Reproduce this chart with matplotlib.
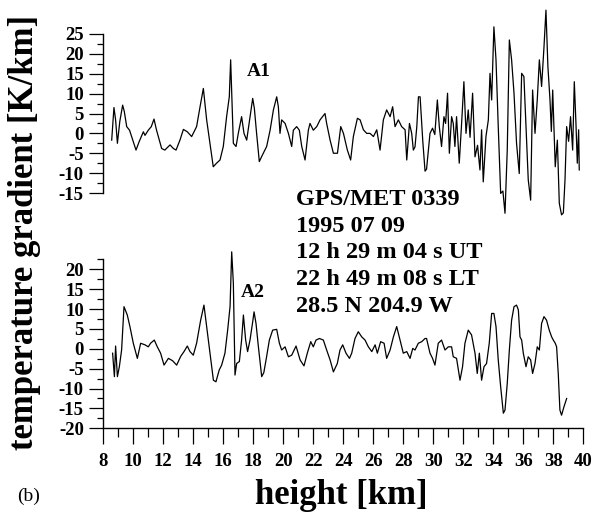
import matplotlib
matplotlib.use('Agg')
import matplotlib.pyplot as plt
from matplotlib.ticker import MultipleLocator

plt.rcParams['font.family'] = ['Liberation Serif', 'DejaVu Serif']
plt.rcParams['font.weight'] = 'bold'
plt.rcParams['axes.unicode_minus'] = False

# profile A1: height [km], temperature gradient [K/km]
h_a1 = [8.56, 8.71, 8.82, 8.94, 9.1, 9.29, 9.4, 9.56, 9.75, 10.18, 10.4, 10.67, 10.78, 11.0,
        11.2, 11.38, 11.55, 11.89, 12.1, 12.45, 12.67, 12.85, 13.11, 13.34, 13.6, 13.89, 14.22,
        14.45, 14.67, 14.89, 15.11, 15.33, 15.55, 15.78, 16.0, 16.22, 16.4, 16.49, 16.58, 16.67,
        16.85, 17.0, 17.22, 17.38, 17.56, 17.82, 17.96, 18.07, 18.22, 18.4, 18.6, 18.89, 19.12,
        19.34, 19.56, 19.67, 19.78, 19.89, 20.12, 20.34, 20.56, 20.67, 20.89, 21.07, 21.23, 21.45,
        21.67, 21.78, 22.0, 22.23, 22.45, 22.78, 22.89, 23.12, 23.34, 23.61, 23.83, 24.01, 24.27,
        24.49, 24.67, 24.94, 25.12, 25.34, 25.56, 25.78, 26.01, 26.23, 26.45, 26.67, 26.89, 27.12,
        27.29, 27.45, 27.67, 27.89, 28.12, 28.23, 28.41, 28.56, 28.67, 28.78, 28.9, 29.01, 29.12,
        29.3, 29.45, 29.55, 29.78, 29.95, 30.1, 30.27, 30.4, 30.55, 30.71, 30.82, 30.95, 31.07,
        31.22, 31.33, 31.44, 31.55, 31.73, 31.88, 32.04, 32.18, 32.33, 32.45, 32.62, 32.78, 32.95,
        33.11, 33.22, 33.33, 33.51, 33.67, 33.78, 33.89, 34.04, 34.18, 34.33, 34.49, 34.64, 34.78,
        34.93, 35.07, 35.22, 35.38, 35.55, 35.73, 35.89, 36.04, 36.18, 36.33, 36.49, 36.62, 36.78,
        36.93, 37.07, 37.22, 37.38, 37.51, 37.64, 37.78, 37.87, 37.96, 38.13, 38.27, 38.4, 38.55,
        38.67, 38.78, 38.89, 39.02, 39.15, 39.29, 39.4, 39.51, 39.6, 39.69, 39.73]
g_a1 = [-1.7, 6.5, 3.4, -2.5, 3.0, 7.1, 5.5, 1.7, 0.8, -4.2, -2.0, 0.4, -0.5, 0.8,
        1.7, 3.6, 0.8, -3.8, -4.2, -2.9, -3.8, -4.2, -1.7, 1.0, 0.4, -0.8, 1.7,
        6.7, 11.3, 3.4, -2.5, -8.4, -7.5, -6.7, -3.3, 4.2, 9.2, 18.5, 8.4, -2.5,
        -3.3, 0.0, 4.2, 0.0, -1.7, 5.0, 8.8, 6.3, 0.0, -7.1, -5.5, -3.3, 0.8,
        5.9, 9.2, 6.7, 0.0, 3.4, 2.5, 0.0, -3.3, 0.8, 1.7, 0.8, -3.3, -6.7,
        0.8, 2.5, 0.8, 1.7, 3.4, 5.0, 2.5, -1.7, -5.0, -5.0, 1.7, 0.0, -4.2,
        -6.7, -0.8, 3.8, 3.4, 0.9, 0.0, 0.0, -0.8, 0.9, -4.2, 3.4, 5.9, 4.2,
        6.7, 1.7, 3.4, 1.7, 0.9, -6.7, 2.5, 0.0, -4.2, -3.4, 1.7, 9.2, 9.2,
        -2.0, -9.5, -9.0, 0.0, 1.3, -0.3, 8.4, 1.7, -3.3, 4.2, 2.5, 10.1, -5.0,
        4.2, 2.5, -3.3, 4.2, -7.5, 2.0, 13.0, 0.0, 5.9, -1.0, 10.1, -5.9, -3.0,
        -9.2, 0.9, -12.2, -0.8, 3.4, 15.1, 8.4, 26.8, 18.5, 1.7, -15.1, -14.5, -20.1,
        -4.2, 23.5, 18.5, 10.1, -2.5, -10.1, 15.1, 14.3, 1.7, -11.7, -16.8, 10.9, 0.0,
        8.4, 18.5, 11.8, 21.8, 31.0, 16.8, 8.4, 0.5, 10.9, -8.4, -1.7, -17.6, -20.5,
        -20.0, -11.7, 1.7, -2.0, 4.2, -4.2, 13.0, 2.5, -7.5, 0.9, -9.2]

# profile A2
h_a2 = [8.62, 8.74, 8.82, 8.94, 9.07, 9.22, 9.38, 9.6, 9.78, 10.0, 10.27, 10.49, 10.78, 11.0,
        11.15, 11.4, 11.6, 11.82, 12.05, 12.34, 12.62, 12.89, 13.16, 13.38, 13.6, 13.78, 14.0,
        14.22, 14.49, 14.71, 14.89, 15.11, 15.34, 15.51, 15.73, 15.89, 16.11, 16.29, 16.45, 16.56,
        16.67, 16.78, 16.89, 17.07, 17.22, 17.34, 17.49, 17.62, 17.78, 17.96, 18.05, 18.18, 18.34,
        18.56, 18.7, 18.85, 19.07, 19.29, 19.56, 19.74, 19.89, 20.12, 20.34, 20.56, 20.85, 21.12,
        21.38, 21.6, 21.83, 22.0, 22.18, 22.41, 22.67, 22.89, 23.12, 23.34, 23.6, 23.78, 23.96,
        24.18, 24.41, 24.56, 24.78, 25.0, 25.23, 25.45, 25.67, 25.9, 26.12, 26.27, 26.49, 26.72,
        26.89, 27.12, 27.34, 27.56, 27.78, 28.0, 28.23, 28.45, 28.63, 28.78, 29.0, 29.23, 29.45,
        29.55, 29.78, 29.95, 30.11, 30.33, 30.55, 30.78, 31.0, 31.22, 31.33, 31.55, 31.78, 31.95,
        32.11, 32.33, 32.55, 32.78, 32.93, 33.07, 33.22, 33.38, 33.55, 33.73, 33.89, 34.04, 34.18,
        34.33, 34.49, 34.67, 34.78, 34.93, 35.07, 35.22, 35.38, 35.55, 35.67, 35.78, 35.89, 36.0,
        36.18, 36.33, 36.49, 36.62, 36.78, 36.93, 37.07, 37.22, 37.38, 37.55, 37.73, 37.89, 38.0,
        38.13, 38.22, 38.33, 38.44, 38.55, 38.71, 38.89]
g_a2 = [-1.1, -7.0, 0.7, -7.0, -4.5, -0.3, 10.6, 8.5, 5.5, 1.4, -2.4, 1.4, 1.0, 0.5,
        1.4, 2.2, 0.5, -1.1, -4.1, -2.4, -3.0, -4.1, -1.9, -0.7, 0.7, -0.7, -1.6,
        1.4, 7.2, 11.0, 5.6, -1.1, -7.9, -8.3, -5.3, -4.1, -1.1, 4.7, 10.6, 24.4,
        16.5, -6.6, -3.7, -3.2, 2.2, 8.5, 2.2, -0.7, 2.2, 6.8, 9.3, 6.4, 0.5,
        -7.0, -6.0, -2.8, 2.2, 4.7, 4.9, 1.4, -0.3, 0.5, -2.0, -1.6, 0.7, -2.8,
        -4.3, -1.1, 1.8, 0.5, 2.2, 2.6, 2.2, -0.3, -2.8, -5.8, -3.7, -0.3, 1.0,
        -1.1, -2.4, -1.1, 2.6, 4.3, 3.0, 2.2, 0.5, -0.7, 1.0, -1.1, 1.8, 1.4,
        -2.4, -0.3, 3.0, 5.6, 2.2, -1.1, -0.7, -2.4, 0.1, -0.3, 1.4, 1.8, 2.6,
        2.6, -1.1, -2.4, -4.1, 1.4, 2.2, -0.3, 0.5, 0.5, -2.0, -2.4, -7.9, -4.5,
        1.4, 4.7, 3.5, -1.1, -6.2, -1.1, -7.9, -4.5, -3.7, 1.4, 8.9, 8.9, 5.6,
        -2.8, -9.5, -16.2, -15.4, -8.7, -0.3, 7.2, 10.6, 11.0, 9.8, 3.0, 2.2, -1.1,
        -4.5, -2.0, -2.8, -6.2, -3.7, 0.5, -0.3, 6.4, 8.1, 7.2, 4.7, 3.0, 2.2,
        1.4, 0.5, -6.2, -15.4, -16.7, -14.6, -12.5]

info_lines = ['GPS/MET 0339', '1995 07 09', '12 h 29 m 04 s UT',
              '22 h 49 m 08 s LT', '28.5 N 204.9 W']

W, H = 596, 518
def fx(px):
    return px / W
def fy(py):
    return 1 - py / H

fig = plt.figure(figsize=(W / 100, H / 100), dpi=100)

ax1 = fig.add_axes([fx(103.3), fy(193), 480 / W, 159 / H])
ax2 = fig.add_axes([fx(103.3), fy(428.3), 480 / W, (428.3 - 259.4) / H])

ax1.plot(h_a1, g_a1, color='black', lw=0.9, clip_on=False)
ax2.plot(h_a2, g_a2, color='black', lw=0.9, clip_on=False)

for ax in (ax1, ax2):
    ax.set_xlim(8, 40)
    ax.patch.set_visible(False)
    ax.spines['top'].set_visible(False)
    ax.spines['right'].set_visible(False)
    ax.spines['left'].set_linewidth(1.0)
    ax.yaxis.set_major_locator(MultipleLocator(5))
    ax.yaxis.set_minor_locator(MultipleLocator(2.5))
    ax.tick_params(axis='y', which='major', direction='out', length=10, width=0.9,
                   pad=4, labelsize=13.5)
    ax.tick_params(axis='y', which='minor', direction='out', length=4.5, width=0.9)

ax1.set_ylim(-15, 25)
ax1.spines['bottom'].set_visible(False)
ax1.set_xticks([])

ax2.set_ylim(-20, 22.5)
ax2.spines['bottom'].set_linewidth(1.0)
ax2.xaxis.set_major_locator(MultipleLocator(2))
ax2.xaxis.set_minor_locator(MultipleLocator(1))
ax2.tick_params(axis='x', which='major', direction='out', length=11.5, width=0.9,
                pad=6, labelsize=13.5)
ax2.tick_params(axis='x', which='minor', direction='out', length=6.5, width=0.9)

fig.text(fx(247), fy(76), 'A1', fontsize=14, va='baseline')
fig.text(fx(241), fy(297), 'A2', fontsize=14, va='baseline')
for i, line in enumerate(info_lines):
    fig.text(fx(296), fy(205 + i * 26.7), line, fontsize=17.5, va='baseline')

fig.text(fx(17), fy(496), '(b)', fontsize=14, fontweight='normal', va='center')
fig.text(fx(341), fy(495), 'height [km]', fontsize=25, ha='center', va='center')
fig.text(fx(25), fy(232), 'temperature gradient [K/km]', fontsize=25, rotation=90,
         ha='center', va='center')

fig.savefig('out.png', dpi=100)
